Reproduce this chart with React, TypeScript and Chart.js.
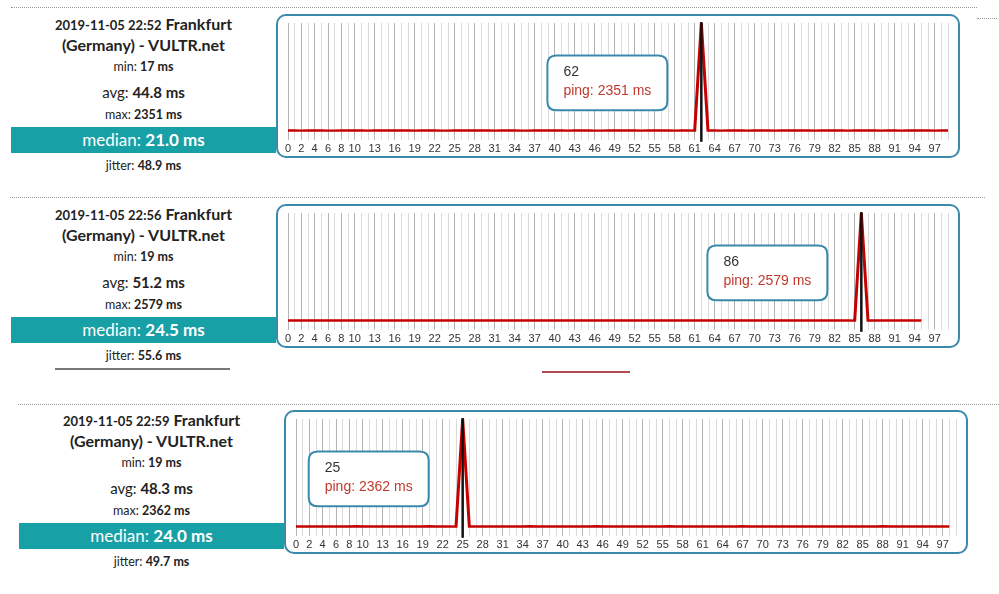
import React, { useEffect, useRef } from 'react';
import { Chart, registerables, Tooltip } from 'chart.js';

Chart.register(...registerables);
Chart.defaults.font.family = "'Liberation Sans', Arial, sans-serif";

// ---------- data ----------
const X_LABELS: string[] = Array.from({ length: 100 }, (_, i) => String(i));
const SHOWN_TICKS = [0, 2, 4, 6, 8, 10, 13, 16, 19, 22, 25, 28, 31, 34, 37, 40, 43, 46, 49, 52, 55, 58, 61, 64, 67, 70, 73, 76, 79, 82, 85, 88, 91, 94, 97];

const TIMES = ['2019-11-05 22:52', '2019-11-05 22:56', '2019-11-05 22:59'];
const PLACE_A = 'Frankfurt';
const PLACE_B = '(Germany) - VULTR.net';
const MINS = ['17 ms', '19 ms', '19 ms'];
const AVGS = ['44.8 ms', '51.2 ms', '48.3 ms'];
const MAXS = ['2351 ms', '2579 ms', '2362 ms'];
const MEDIANS = ['21.0 ms', '24.5 ms', '24.0 ms'];
const JITTERS = ['48.9 ms', '55.6 ms', '49.7 ms'];

const PING_1 = [
  21, 20, 19, 22, 21, 20, 18, 19, 21, 23,
  22, 20, 19, 21, 20, 22, 24, 21, 20, 19,
  21, 22, 20, 19, 18, 21, 20, 23, 22, 21,
  20, 19, 21, 22, 20, 18, 19, 21, 20, 22,
  21, 20, 19, 21, 22, 20, 19, 18, 21, 20,
  22, 21, 20, 19, 21, 20, 22, 21, 19, 20,
  21, 17, 2351, 21, 20, 19, 22, 21, 20, 19,
  21, 22, 20, 19, 21, 23, 22, 21, 20, 19,
  21, 20, 22, 21, 19, 20, 21, 22, 20, 19,
  21, 20, 19, 22, 21, 20, 21, 19, 20, 21,
];
const PING_2 = [
  24, 23, 25, 22, 24, 26, 23, 24, 25, 22,
  24, 23, 25, 24, 26, 24, 23, 22, 24, 25,
  23, 24, 26, 25, 24, 23, 22, 24, 25, 27,
  24, 23, 25, 24, 22, 24, 26, 25, 23, 24,
  25, 24, 23, 22, 24, 25, 26, 24, 23, 25,
  24, 22, 23, 25, 24, 26, 24, 23, 25, 24,
  23, 24, 25, 22, 24, 26, 23, 24, 25, 24,
  23, 25, 24, 22, 24, 25, 23, 24, 26, 24,
  23, 24, 25, 22, 24, 19, 2579, 24, 23, 25,
  24, 22, 24, 25, 23, 24,
];
const PING_3 = [
  24, 23, 25, 24, 22, 24, 25, 23, 24, 26,
  25, 24, 23, 24, 25, 22, 24, 25, 23, 24,
  26, 24, 23, 25, 19, 2362, 24, 23, 25, 24,
  23, 24, 25, 22, 24, 26, 24, 23, 25, 24,
  22, 24, 25, 23, 24, 26, 25, 24, 23, 24,
  25, 24, 22, 23, 25, 24, 26, 24, 23, 25,
  24, 23, 22, 24, 25, 23, 24, 26, 24, 23,
  25, 24, 22, 24, 25, 23, 24, 25, 24, 23,
  24, 25, 23, 22, 24, 25, 24, 23, 26, 24,
  23, 24, 25, 24, 22, 24, 25, 24, 23,
];
const SERIES = [PING_1, PING_2, PING_3];

// ---------- style ----------
const BOX_BORDER = '#3a89ab';
const BAND = '#17a0a6';
const LINE_RED = '#c40000';
const TEXT = '#222';
const FONT = "Lato, 'Noto Sans', sans-serif";

(Tooltip as any).positioners.leftOfPeak = function (elements: any[]) {
  if (!elements.length) return false;
  const chart = (this as any).chart;
  const ca = chart.chartArea;
  const el = elements[0].element;
  return { x: el.x - 34, y: ca.top + (ca.bottom - ca.top) * 0.55 };
};

const hoverLine = {
  id: 'hoverLine',
  afterDatasetsDraw(chart: any) {
    const act = chart.tooltip?.getActiveElements?.() || [];
    if (!act.length) return;
    const x = act[0].element.x;
    const { ctx, chartArea } = chart;
    ctx.save();
    ctx.strokeStyle = '#111';
    ctx.lineWidth = 2.5;
    ctx.beginPath();
    ctx.moveTo(x, chartArea.top - 1);
    ctx.lineTo(x, chartArea.bottom + 10);
    ctx.stroke();
    ctx.restore();
  },
};

function PingChart({ values, left, top }: { values: number[]; left: number; top: number }) {
  const ref = useRef<HTMLCanvasElement>(null);
  useEffect(() => {
    const peak = values.indexOf(Math.max(...values));
    const chart = new Chart(ref.current as HTMLCanvasElement, {
      type: 'line',
      data: {
        labels: X_LABELS,
        datasets: [
          {
            data: values,
            borderColor: LINE_RED,
            borderWidth: 3,
            pointRadius: 0,
            pointHoverRadius: 0,
            tension: 0,
            fill: false,
          },
        ],
      },
      options: {
        responsive: false,
        animation: false,
        events: [],
        layout: { padding: { left: 10, right: 10, top: 7, bottom: 0 } },
        scales: {
          x: {
            offset: false,
            border: { display: false },
            grid: {
              color: (c: any) => (SHOWN_TICKS.includes(c.index) ? '#b4b4b4' : '#dadada'),
              lineWidth: 1,
              drawTicks: true,
              tickLength: 8,
            },
            ticks: {
              autoSkip: false,
              maxRotation: 0,
              minRotation: 0,
              color: '#333',
              font: { size: 11 },
              padding: 3,
              callback: (_v: any, i: number) => (SHOWN_TICKS.includes(i) ? X_LABELS[i] : ''),
            },
          },
          y: { display: false, min: 0, max: Math.max(...values) },
        },
        plugins: {
          legend: { display: false },
          tooltip: {
            enabled: true,
            position: 'leftOfPeak' as any,
            xAlign: 'right',
            yAlign: 'center',
            caretSize: 0,
            caretPadding: 0,
            backgroundColor: '#fff',
            borderColor: BOX_BORDER,
            borderWidth: 2,
            cornerRadius: 9,
            titleColor: '#333',
            titleFont: { size: 14, weight: 'normal' },
            bodyColor: '#c0392b',
            bodyFont: { size: 14 },
            titleMarginBottom: 2,
            padding: { top: 8, bottom: 11, left: 16, right: 16 },
            displayColors: false,
            callbacks: {
              label: (c: any) => `ping: ${c.parsed.y} ms`,
            },
          },
        },
      },
      plugins: [hoverLine],
    });
    chart.tooltip!.setActiveElements([{ datasetIndex: 0, index: peak }], { x: 0, y: 0 });
    chart.update();
    return () => chart.destroy();
  }, [values]);
  return (
    <div style={{ position: 'absolute', left, top, width: 680, height: 143 }}>
      <canvas ref={ref} width={680} height={143} style={{ display: 'block' }} />
    </div>
  );
}

function Line({ cy, size, label, value, dx, dy }: any) {
  return (
    <div
      style={{
        position: 'absolute',
        left: 11 + dx,
        width: 265,
        top: cy + dy - 10,
        height: 20,
        lineHeight: '20px',
        textAlign: 'center',
        fontSize: size,
        color: TEXT,
        fontFamily: FONT,
        whiteSpace: 'nowrap',
      }}
    >
      {label}
      <b>{value}</b>
    </div>
  );
}

const OFFSETS = [
  { dx: 0, dy: 0 },
  { dx: 0, dy: 190 },
  { dx: 8, dy: 396 },
];

function Panel({ i }: { i: number }) {
  const { dx, dy } = OFFSETS[i];
  return (
    <>
      <div
        style={{
          position: 'absolute',
          left: 11 + dx,
          width: 265,
          top: 14 + dy,
          height: 20,
          lineHeight: '20px',
          textAlign: 'center',
          color: TEXT,
          fontFamily: FONT,
          fontWeight: 700,
          whiteSpace: 'nowrap',
        }}
      >
        <span style={{ fontSize: 13 }}>{TIMES[i]}</span>
        <span style={{ fontSize: 16 }}>&nbsp;{PLACE_A}</span>
      </div>
      <div
        style={{
          position: 'absolute',
          left: 11 + dx,
          width: 265,
          top: 35 + dy,
          height: 20,
          lineHeight: '20px',
          textAlign: 'center',
          color: TEXT,
          fontFamily: FONT,
          fontWeight: 700,
          fontSize: 16,
          whiteSpace: 'nowrap',
        }}
      >
        {PLACE_B}
      </div>
      <Line cy={67} size={12.5} label="min: " value={MINS[i]} dx={dx} dy={dy} />
      <Line cy={92} size={15} label="avg: " value={AVGS[i]} dx={dx} dy={dy} />
      <Line cy={115} size={12.5} label="max: " value={MAXS[i]} dx={dx} dy={dy} />
      <div
        style={{
          position: 'absolute',
          left: 11 + dx,
          width: 265,
          top: 127 + dy,
          height: 26,
          lineHeight: '26px',
          background: BAND,
          color: '#fff',
          textAlign: 'center',
          fontFamily: FONT,
          fontSize: 17,
          whiteSpace: 'nowrap',
        }}
      >
        median: <b>{MEDIANS[i]}</b>
      </div>
      <Line cy={166} size={12.5} label="jitter: " value={JITTERS[i]} dx={dx} dy={dy} />
      <div
        style={{
          position: 'absolute',
          left: 276 + dx,
          top: 14 + dy,
          width: 684,
          height: 144,
          boxSizing: 'border-box',
          border: `2px solid ${BOX_BORDER}`,
          borderRadius: 10,
          background: '#fff',
        }}
      />
      <PingChart values={SERIES[i]} left={278 + dx} top={16 + dy} />
    </>
  );
}

function Dotted({ x1, x2, y }: { x1: number; x2: number; y: number }) {
  return (
    <div
      style={{
        position: 'absolute',
        left: x1,
        top: y,
        width: x2 - x1,
        height: 0,
        borderTop: '1px dotted #9a9a9a',
      }}
    />
  );
}

export default function App() {
  return (
    <div
      style={{
        position: 'absolute',
        left: 0,
        top: 0,
        width: 999,
        height: 594,
        background: '#fff',
        overflow: 'hidden',
      }}
    >
      <Dotted x1={11} x2={977} y={7} />
      <Dotted x1={977} x2={997} y={18} />
      <Dotted x1={10} x2={985} y={197} />
      <Dotted x1={18} x2={999} y={404} />
      <Panel i={0} />
      <Panel i={1} />
      <Panel i={2} />
      <div style={{ position: 'absolute', left: 55, top: 368, width: 175, height: 2, background: '#777' }} />
      <div style={{ position: 'absolute', left: 542, top: 371, width: 88, height: 2, background: '#b04a55' }} />
    </div>
  );
}
